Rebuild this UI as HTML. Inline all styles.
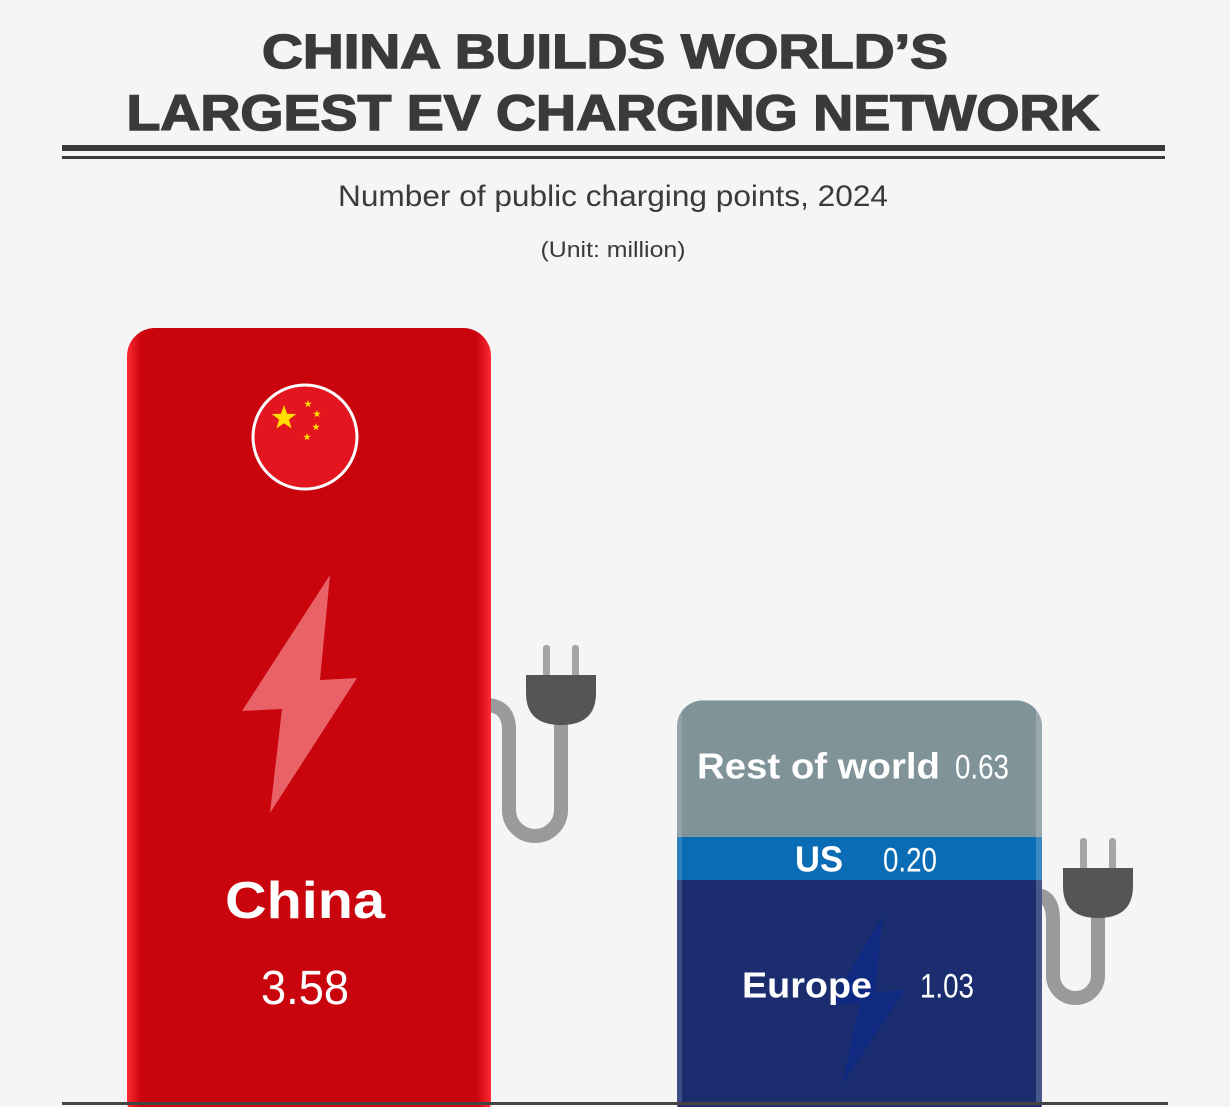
<!DOCTYPE html>
<html><head><meta charset="utf-8"><style>
html,body{margin:0;padding:0;background:#f5f5f5;}
svg{display:block;}
text{font-family:"Liberation Sans",sans-serif;}
</style></head><body>
<svg id="chart" width="1230" height="1107" viewBox="0 0 1230 1107">
<defs>
<linearGradient id="redg" x1="0" x2="1" y1="0" y2="0">
<stop offset="0" stop-color="#ff2a33"/><stop offset="0.04" stop-color="#c9040d"/><stop offset="0.96" stop-color="#c9040d"/><stop offset="1" stop-color="#ff2a33"/>
</linearGradient>
<clipPath id="stackclip"><rect id="stackclipRect" rx="26" ry="26"/></clipPath>
</defs>
<rect width="1230" height="1107" fill="#f5f5f5"/>
<text x="605" y="68" text-anchor="middle" font-size="48" font-weight="bold" fill="#3a3a3a" stroke="#3a3a3a" stroke-width="1.5" textLength="686" lengthAdjust="spacingAndGlyphs">CHINA BUILDS WORLD’S</text>
<text x="613" y="130" text-anchor="middle" font-size="50" font-weight="bold" fill="#3a3a3a" stroke="#3a3a3a" stroke-width="1.5" textLength="973" lengthAdjust="spacingAndGlyphs">LARGEST EV CHARGING NETWORK</text>
<rect x="62" y="145" width="1103" height="6" fill="#3a3a3a"/>
<rect x="62" y="156" width="1103" height="3" fill="#3a3a3a"/>
<text x="613" y="206" text-anchor="middle" font-size="30" fill="#3a3a3a" textLength="550" lengthAdjust="spacingAndGlyphs">Number of public charging points, 2024</text>
<text x="613" y="257" text-anchor="middle" font-size="22" fill="#3a3a3a" textLength="145" lengthAdjust="spacingAndGlyphs">(Unit: million)</text>
<g id="plot"></g>
<rect x="62" y="1102" width="1106" height="3" fill="#444"/>
</svg>
<script>
const categories = ["China", "Others"];
const chinaValue = [3.58];
const stackLabels = ["Europe", "US", "Rest of world"];
const stackValues = [1.03, 0.20, 0.63];
const stackValueText = ["1.03", "0.20", "0.63"];
const chinaValueText = ["3.58"];

const NS = "http://www.w3.org/2000/svg";
const baseY = 1103;
const pxPerUnit = 775 / 3.58;
function yScale(v){ return baseY - v * pxPerUnit; }
function el(tag, attrs, parent){ const e=document.createElementNS(NS,tag); for(const k in attrs) e.setAttribute(k,attrs[k]); parent.appendChild(e); return e; }
const plot = document.getElementById("plot");

function plug(px, py, barEdge, yStart, legL, bottom, parent){
  const g = el("g",{},parent);
  
  
  const r = (px - legL)/2;
  el("path",{d:`M${barEdge-6} ${yStart} Q${legL} ${yStart} ${legL} ${yStart+25} L${legL} ${bottom-r} A${r} ${r} 0 0 0 ${px} ${bottom-r} L${px} ${py+40}`, fill:"none", stroke:"#9a9a9c", "stroke-width":14}, g);
  el("rect",{x:px-18,y:py-30,width:7,height:32,rx:3,fill:"#a5a5a7"},g);
  el("rect",{x:px+11,y:py-30,width:7,height:32,rx:3,fill:"#a5a5a7"},g);
  el("path",{d:`M${px-35} ${py} H${px+35} V${py+18} Q${px+35} ${py+50} ${px} ${py+50} Q${px-35} ${py+50} ${px-35} ${py+18} Z`, fill:"#555557"},g);
}

const cTop = yScale(chinaValue[0]);
plug(561, 675, 491, 705, 509, 836, plot);
const cb = el("rect",{x:127,y:cTop,width:364,height:baseY-cTop+25,rx:28,fill:"url(#redg)"},plot);


const flag = el("g",{},plot);


el("circle",{cx:305,cy:437,r:52,fill:"#e3151f",stroke:"#fff","stroke-width":3},flag);
function star(cx,cy,R,parent){ let p=[]; for(let i=0;i<10;i++){ const a=-Math.PI/2+i*Math.PI/5; const rr=i%2?R*0.4:R; p.push((cx+rr*Math.cos(a)).toFixed(1)+","+(cy+rr*Math.sin(a)).toFixed(1)); } el("polygon",{points:p.join(" "),fill:"#ffde00"},parent); }
star(284,418,13,flag); star(308,404,4,flag); star(317,414,4,flag); star(316,427,4,flag); star(307,437,4,flag);
const bolt = el("polygon",{points:"330,575 242,711 282,709 270,813 357,678 320,680",fill:"#f07a80","fill-opacity":0.8},plot);


const cl = el("text",{x:305,y:918,"text-anchor":"middle","font-size":52,"font-weight":"bold",fill:"#fff",textLength:160,lengthAdjust:"spacingAndGlyphs"},plot);
cl.textContent = categories[0];


const cv = el("text",{x:305,y:1004,"text-anchor":"middle","font-size":48,fill:"#fff",textLength:88,lengthAdjust:"spacingAndGlyphs"},plot);
cv.textContent = chinaValueText[0];



const total = stackValues.reduce((a,b)=>a+b,0);
const sTop = yScale(total);
plug(1098, 868, 1041, 895, 1053, 998, plot);
const cr = document.getElementById("stackclipRect");
cr.setAttribute("x",677); cr.setAttribute("y",sTop); cr.setAttribute("width",365); cr.setAttribute("height",baseY-sTop+25);
const colors = ["#1b2d6f","#0a6cb4","#7f9399"];
const sg = el("g",{"clip-path":"url(#stackclip)"},plot);
let cum = 0;
const segBounds = [];
stackValues.forEach((v,i)=>{
  const y0 = yScale(cum), y1 = yScale(cum+v);
  const r = el("rect",{x:677,y:y1,width:365,height:(i===0? y0-y1+25 : y0-y1),fill:colors[i]},sg);
  
  
  segBounds.push([y1,y0]);
  cum += v;
});
el("rect",{x:677,y:sTop,width:5,height:baseY-sTop,fill:"#ffffff","fill-opacity":0.15},sg);
el("rect",{x:1036,y:sTop,width:6,height:baseY-sTop,fill:"#ffffff","fill-opacity":0.2},sg);
const eb = el("polygon",{points:"883,915 830,1005 860,1003 842,1085 905,990 875,992",fill:"#0c2a8a","fill-opacity":0.7},sg);


const labelPos = [[742,920,130],[795,883,48],[697,955,243]];
stackLabels.forEach((lab,i)=>{
  const mid = (segBounds[i][0]+segBounds[i][1])/2;
  const yy = i===0 ? mid+6 : (i===1 ? mid+13 : segBounds[i][0]+78);
  const t = el("text",{x:labelPos[i][0],y:yy,"font-size":36,"font-weight":"bold",fill:"#fff",textLength:labelPos[i][2],lengthAdjust:"spacingAndGlyphs"},plot);
  t.textContent = lab;
  
  
  const tv = el("text",{x:labelPos[i][1],y:yy,"font-size":34,fill:"#fff",textLength:54,lengthAdjust:"spacingAndGlyphs"},plot);
  tv.textContent = stackValueText[i];
  
  
});
</script>
</body></html>
